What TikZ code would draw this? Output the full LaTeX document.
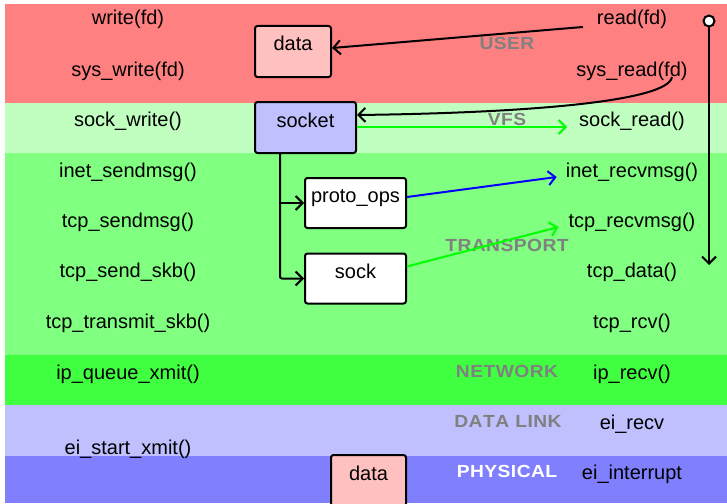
\documentclass[tikz,border=0pt]{standalone}
\usepackage{fontspec}
\usepackage{graphicx}
\setmainfont{Liberation Sans}
\usetikzlibrary{arrows.meta}

% layer names are set wide: stretched a little, with a touch of tracking
\makeatletter
\newcommand\spreadtext[1]{\scalebox{1.1}[1]{\@tfor\sptok:=#1\do{\sptok\kern0.4pt}\unkern}}
\makeatother

\definecolor{userband}{HTML}{FF8080}
\definecolor{vfsband}{HTML}{C0FFC0}
\definecolor{transband}{HTML}{80FF80}
\definecolor{netband}{HTML}{40FF40}
\definecolor{linkband}{HTML}{C0C0FF}
\definecolor{physband}{HTML}{8080FF}
\definecolor{pinkbox}{HTML}{FFC0C0}
\definecolor{bluebox}{HTML}{C0C0FF}
\definecolor{layergray}{HTML}{808080}
\definecolor{flowgreen}{HTML}{00FF00}
\definecolor{flowblue}{HTML}{0000FF}

\begin{document}
\begin{tikzpicture}[x=1pt,y=-1pt,
  fn/.style={inner sep=0pt, text height=15pt, text depth=5pt, anchor=base,
    font=\fontsize{20}{24}\selectfont},
  layer/.style={inner sep=0pt, anchor=base, text=layergray,
    font=\fontsize{17.5}{20}\selectfont\bfseries},
  box/.style={draw=black, line width=2pt, rounded corners=2.5pt, inner sep=0pt,
    text height=14pt, text depth=15pt, font=\fontsize{20}{24}\selectfont},
  conn/.style={draw=black, line width=2pt, -{Straight Barb[length=7pt,width=14pt]}},
  flow/.style={line width=2pt, -{Straight Barb[length=7pt,width=14pt]}}
]
\useasboundingbox (0,0) rectangle (727,503);
\clip (0,0) rectangle (727,503);
\fill[white] (0,0) rectangle (727,503);

% layer bands
\fill[userband]  (5,4)   rectangle (727,103);
\fill[vfsband]   (5,103) rectangle (727,153);
\fill[transband] (5,153) rectangle (727,355);
\fill[netband]   (5,355) rectangle (727,405);
\fill[linkband]  (5,405) rectangle (727,456);
\fill[physband]  (5,456) rectangle (727,503);

% layer names
\node[layer] (lUser)  at (507,49.5) {\spreadtext{USER}};
\node[layer] (lVfs)   at (507,125)  {\spreadtext{VFS}};
\node[layer] (lTrans) at (507,251.5){\spreadtext{TRANSPORT}};
\node[layer] (lNet)   at (507,377)  {\spreadtext{NETWORK}};
\node[layer] (lLink)  at (508,427.5){\spreadtext{DATA\ LINK}};
\node[layer, text=white] (lPhys) at (507,477) {\spreadtext{PHYSICAL}};

% send path
\node[fn] (wr)   at (128,25)  {write(fd)};
\node[fn] (swr)  at (128,76)  {sys\_write(fd)};
\node[fn] (skw)  at (128,126) {sock\_write()};
\node[fn] (isnd) at (128,177) {inet\_sendmsg()};
\node[fn] (tsnd) at (128,227) {tcp\_sendmsg()};
\node[fn] (tskb) at (128,277) {tcp\_send\_skb()};
\node[fn] (ttx)  at (128,328) {tcp\_transmit\_skb()};
\node[fn] (ipq)  at (128,379) {ip\_queue\_xmit()};
\node[fn] (eix)  at (128,454) {ei\_start\_xmit()};

% receive path
\node[fn] (rd)   at (632,25)  {read(fd)};
\node[fn] (srd)  at (632,76)  {sys\_read(fd)};
\node[fn] (skr)  at (632,126) {sock\_read()};
\node[fn] (irc)  at (632,177) {inet\_recvmsg()};
\node[fn] (trc)  at (632,227) {tcp\_recvmsg()};
\node[fn] (tdat) at (632,277) {tcp\_data()};
\node[fn] (trcv) at (632,328) {tcp\_rcv()};
\node[fn] (iprv) at (632,379) {ip\_recv()};
\node[fn] (eirv) at (632,429) {ei\_recv};
\node[fn] (eint) at (632,479) {ei\_interrupt};

% structures
\node[box, fill=pinkbox, minimum width=76pt, minimum height=51pt] (data1) at (293,51.5) {data};
\node[box, fill=bluebox, minimum width=101pt, minimum height=51pt] (socket) at (305.5,127.5) {socket};
\node[box, fill=white, minimum width=101pt, minimum height=50pt] (proto) at (355.5,203) {proto\_ops};
\node[box, fill=white, minimum width=101pt, minimum height=50pt] (sockb) at (355.5,278.5) {sock};
\node[box, fill=pinkbox, minimum width=75pt, minimum height=51pt] (data2) at (368.5,480.5) {data};

% user-space call returns data
\draw[conn] ([xshift=-14pt,yshift=-2pt]rd.base west) -- ([yshift=3.5pt]data1.east);
\draw[conn] ([xshift=40pt,yshift=-1pt]srd.base)
  .. controls ([xshift=36pt,yshift=-26pt]srd.base) and ([xshift=-110pt,yshift=-37pt]srd.base)
  .. ([yshift=12.5pt]socket.east);

% socket lookups
\draw[flow, draw=flowgreen] ([yshift=0.5pt]socket.east) -- ([xshift=-12pt,yshift=-6pt]skr.west);
\draw[flow, draw=flowblue] ([yshift=6pt]proto.east) -- ([xshift=-9pt,yshift=-5pt]irc.west);
\draw[flow, draw=flowgreen] ([yshift=12pt]sockb.east) -- ([xshift=-10pt,yshift=-5pt]trc.west);

% socket fan-out
\coordinate (trunk) at ([xshift=-25.5pt]socket.south);
\draw[conn, rounded corners=2pt] (trunk) |- (sockb.west);
\draw[conn] (trunk |- proto.west) -- (proto.west);

% receive direction
\node[circle, draw=black, fill=white, line width=2pt, minimum size=11pt, inner sep=0pt] (start) at (709,21) {};
\coordinate (stop) at (709,265);
\draw[conn] (start) -- (stop);
\end{tikzpicture}
\end{document}
